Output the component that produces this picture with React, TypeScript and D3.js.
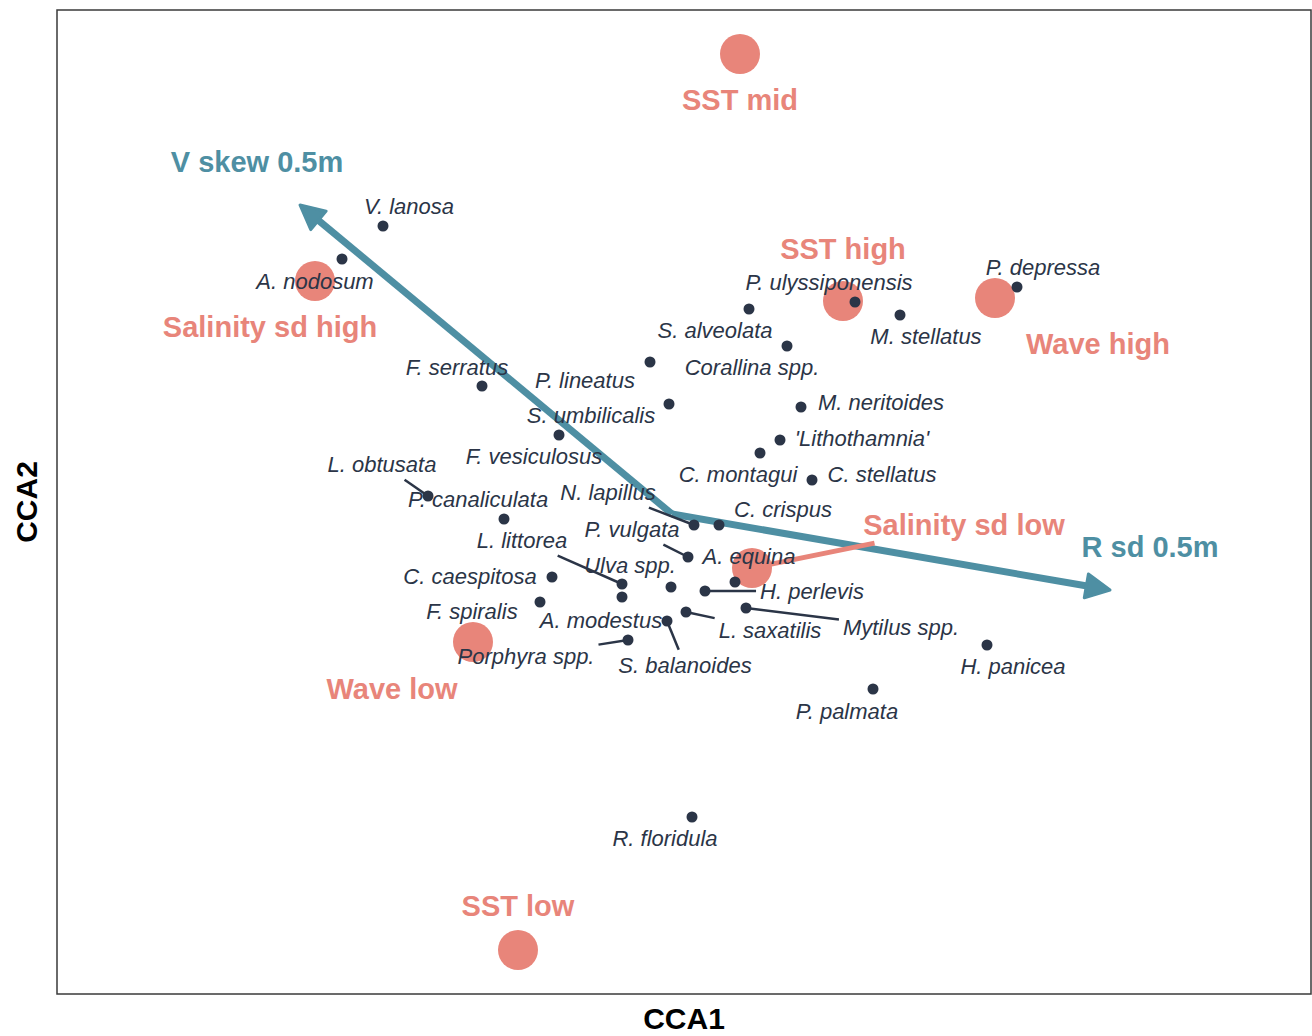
import React, { useEffect, useRef } from 'react';
import * as d3 from 'd3';

// species scores (CCA1, CCA2) and where their repelled labels sit
const species = [
  'V. lanosa', 'A. nodosum', 'P. ulyssiponensis', 'P. depressa', 'M. stellatus', 'S. alveolata',
  'Corallina spp.', 'P. lineatus', 'S. umbilicalis', 'F. serratus', 'F. vesiculosus', 'M. neritoides',
  "'Lithothamnia'", 'C. montagui', 'C. stellatus', 'C. crispus', 'N. lapillus', 'P. vulgata',
  'A. equina', 'H. perlevis', 'Mytilus spp.', 'L. saxatilis', 'S. balanoides', 'A. modestus',
  'Ulva spp.', 'L. littorea', 'C. caespitosa', 'F. spiralis', 'Porphyra spp.', 'L. obtusata',
  'P. canaliculata', 'H. panicea', 'P. palmata', 'R. floridula',
];
const sppCca1 = [
  -1.156, -1.32, 0.732, 1.38, 0.912, 0.308, 0.46, -0.088, -0.012, -0.76, -0.452, 0.516, 0.432, 0.352,
  0.56, 0.188, 0.088, 0.064, 0.252, 0.132, 0.296, 0.056, -0.02, -0.2, -0.004, -0.2, -0.48, -0.528,
  -0.176, -0.976, -0.672, 1.26, 0.804, 0.08,
];
const sppCca2 = [
  1.152, 1.02, 0.848, 0.908, 0.796, 0.82, 0.672, 0.608, 0.44, 0.512, 0.316, 0.428, 0.296, 0.244,
  0.136, -0.044, -0.044, -0.172, -0.272, -0.308, -0.376, -0.392, -0.428, -0.332, -0.292, -0.28,
  -0.252, -0.352, -0.504, 0.072, -0.02, -0.524, -0.7, -1.212,
];
const sppLabelCca1 = [
  -1.052, -1.428, 0.628, 1.484, 1.016, 0.172, 0.32, -0.348, -0.324, -0.86, -0.552, 0.836, 0.76, 0.264,
  0.84, 0.444, -0.256, -0.16, 0.308, 0.56, 0.916, 0.392, 0.052, -0.284, -0.168, -0.6, -0.808, -0.8,
  -0.584, -1.16, -0.776, 1.364, 0.7, -0.028,
];
const sppLabelCca2 = [
  1.232, 0.932, 0.928, 0.988, 0.712, 0.736, 0.588, 0.536, 0.396, 0.588, 0.232, 0.448, 0.304, 0.16,
  0.16, 0.02, 0.088, -0.06, -0.168, -0.308, -0.452, -0.464, -0.604, -0.424, -0.204, -0.104, -0.248,
  -0.388, -0.568, 0.2, 0.06, -0.608, -0.788, -1.296,
];

// factor centroids
const envLevels = ['SST mid', 'SST high', 'Wave high', 'Salinity sd high', 'Salinity sd low', 'Wave low', 'SST low'];
const envCca1 = [0.272, 0.684, 1.292, -1.428, 0.32, -0.796, -0.616];
const envCca2 = [1.84, 0.852, 0.864, 0.932, -0.216, -0.512, -1.744];
const envLabelCca1 = [0.272, 0.684, 1.704, -1.608, 1.168, -1.12, -0.616];
const envLabelCca2 = [1.656, 1.06, 0.68, 0.748, -0.044, -0.7, -1.568];
const envLinked = ['Salinity sd low'];

// continuous vectors
const vectors = ['V skew 0.5m', 'R sd 0.5m'];
const vecCca1 = [-1.488, 1.752];
const vecCca2 = [1.236, -0.304];
const vecLabelCca1 = [-1.66, 1.912];
const vecLabelCca2 = [1.408, -0.132];

const salmon = '#e8857a';
const teal = '#4e8fa3';
const ink = '#2b3547';
const font = "'Liberation Sans', Arial, sans-serif";

// point where the ray p -> c enters box b
function entry(px: number, py: number, cx: number, cy: number, b: any) {
  const ts: number[] = [0];
  if (px < b.x) ts.push((b.x - px) / (cx - px));
  if (px > b.x + b.width) ts.push((b.x + b.width - px) / (cx - px));
  if (py < b.y) ts.push((b.y - py) / (cy - py));
  if (py > b.y + b.height) ts.push((b.y + b.height - py) / (cy - py));
  const t = Math.max(...ts);
  return { x: px + t * (cx - px), y: py + t * (cy - py), len: t * Math.hypot(cx - px, cy - py) };
}

function CcaPlot() {
  const ref = useRef<any>(null);
  const dims = { width: 1312, height: 1036, left: 57, right: 1311, top: 10, bottom: 994 };

  useEffect(() => {
    const svg = d3.select(ref.current);
    svg.selectAll('*').remove();

    const x = d3.scaleLinear().domain([-2.46, 2.556]).range([dims.left, dims.right]);
    const y = d3.scaleLinear().domain([-1.92, 2.016]).range([dims.bottom, dims.top]);

    svg
      .append('rect')
      .attr('x', dims.left)
      .attr('y', dims.top)
      .attr('width', dims.right - dims.left)
      .attr('height', dims.bottom - dims.top)
      .attr('fill', 'white')
      .attr('stroke', '#3a3a3a')
      .attr('stroke-width', 1.5);

    // centroid circles
    const env = envLevels.map((name, i) => ({
      name, x: x(envCca1[i]), y: y(envCca2[i]), lx: x(envLabelCca1[i]), ly: y(envLabelCca2[i]),
    }));
    svg
      .append('g')
      .selectAll('circle')
      .data(env)
      .join('circle')
      .attr('cx', (d) => d.x)
      .attr('cy', (d) => d.y)
      .attr('r', 20)
      .attr('fill', salmon);

    // vectors
    const gv = svg.append('g');
    const ox = x(0);
    const oy = y(0);
    vectors.forEach((name, i) => {
      const tx = x(vecCca1[i]);
      const ty = y(vecCca2[i]);
      const len = Math.hypot(tx - ox, ty - oy);
      const ux = (tx - ox) / len;
      const uy = (ty - oy) / len;
      const hl = 24;
      const hw = 12;
      gv.append('line')
        .attr('x1', ox)
        .attr('y1', oy)
        .attr('x2', tx - ux * hl * 0.6)
        .attr('y2', ty - uy * hl * 0.6)
        .attr('stroke', teal)
        .attr('stroke-width', 7);
      const bx = tx - ux * hl;
      const by = ty - uy * hl;
      gv.append('path')
        .attr('d', `M${tx},${ty}L${bx - uy * hw},${by + ux * hw}L${bx + uy * hw},${by - ux * hw}Z`)
        .attr('fill', teal)
        .attr('stroke', teal)
        .attr('stroke-width', 3)
        .attr('stroke-linejoin', 'round');
    });

    // species
    const spp = species.map((name, i) => ({
      name, x: x(sppCca1[i]), y: y(sppCca2[i]), lx: x(sppLabelCca1[i]), ly: y(sppLabelCca2[i]),
    }));
    const gSeg = svg.append('g');
    const envSeg = svg.append('g');
    svg
      .append('g')
      .selectAll('circle')
      .data(spp)
      .join('circle')
      .attr('cx', (d) => d.x)
      .attr('cy', (d) => d.y)
      .attr('r', 5.5)
      .attr('fill', ink);

    const sppText = svg
      .append('g')
      .selectAll('text')
      .data(spp)
      .join('text')
      .attr('x', (d) => d.lx)
      .attr('y', (d) => d.ly)
      .attr('dy', '0.35em')
      .attr('text-anchor', 'middle')
      .attr('font-family', font)
      .attr('font-style', 'italic')
      .attr('font-size', 22)
      .attr('fill', ink)
      .text((d) => d.name);

    sppText.each(function (d: any) {
      const b = (this as SVGTextElement).getBBox();
      const pad = { x: b.x - 4, y: b.y - 3, width: b.width + 8, height: b.height + 6 };
      const e = entry(d.x, d.y, d.lx, d.ly, pad);
      if (e.len > 20) {
        gSeg.append('line')
          .attr('x1', d.x)
          .attr('y1', d.y)
          .attr('x2', e.x)
          .attr('y2', e.y)
          .attr('stroke', ink)
          .attr('stroke-width', 2.5);
      }
    });

    const envText = svg
      .append('g')
      .selectAll('text')
      .data(env)
      .join('text')
      .attr('x', (d) => d.lx)
      .attr('y', (d) => d.ly)
      .attr('dy', '0.35em')
      .attr('text-anchor', 'middle')
      .attr('font-family', font)
      .attr('font-weight', 'bold')
      .attr('font-size', 29)
      .attr('fill', salmon)
      .text((d) => d.name);

    envText.each(function (d: any) {
      if (!envLinked.includes(d.name)) return;
      const b = (this as SVGTextElement).getBBox();
      const pad = { x: b.x - 4, y: b.y - 2, width: b.width + 8, height: b.height + 4 };
      const e = entry(d.x, d.y, d.lx, d.ly, pad);
      envSeg.append('line')
        .attr('x1', d.x)
        .attr('y1', d.y)
        .attr('x2', e.x)
        .attr('y2', e.y)
        .attr('stroke', salmon)
        .attr('stroke-width', 5);
    });

    svg
      .append('g')
      .selectAll('text')
      .data(vectors)
      .join('text')
      .attr('x', (d, i) => x(vecLabelCca1[i]))
      .attr('y', (d, i) => y(vecLabelCca2[i]))
      .attr('dy', '0.35em')
      .attr('text-anchor', 'middle')
      .attr('font-family', font)
      .attr('font-weight', 'bold')
      .attr('font-size', 29)
      .attr('fill', teal)
      .text((d) => d);

    // axis titles
    svg.append('text')
      .attr('x', (dims.left + dims.right) / 2)
      .attr('y', 1029)
      .attr('text-anchor', 'middle')
      .attr('font-family', font)
      .attr('font-weight', 'bold')
      .attr('font-size', 30)
      .attr('fill', '#000')
      .text('CCA1');
    svg.append('text')
      .attr('transform', `translate(37,${(dims.top + dims.bottom) / 2}) rotate(-90)`)
      .attr('text-anchor', 'middle')
      .attr('font-family', font)
      .attr('font-weight', 'bold')
      .attr('font-size', 30)
      .attr('fill', '#000')
      .text('CCA2');
  }, []);

  return (
    <svg
      ref={ref}
      width={dims.width}
      height={dims.height}
      style={{ position: 'absolute', left: 0, top: 0, display: 'block', background: 'white' }}
    ></svg>
  );
}

export default function App() {
  return <CcaPlot />;
}
